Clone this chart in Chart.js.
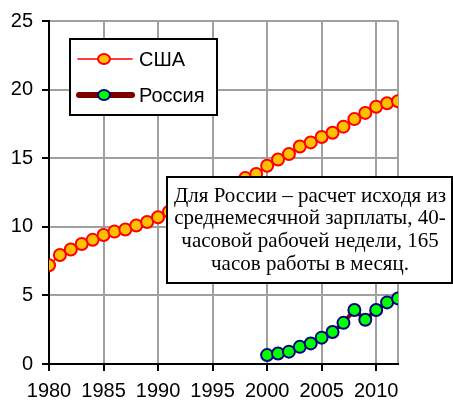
<!DOCTYPE html>
<html>
<head>
<meta charset="utf-8">
<script src="https://cdn.jsdelivr.net/npm/chart.js@4/dist/chart.umd.min.js"></script>
<style>
  body { margin: 0; background: #fff; }
  canvas { display: block; }
</style>
</head>
<body>
<canvas id="chart" width="453" height="400"></canvas>
<script>
// data
const usaYears = [1980, 1981, 1982, 1983, 1984, 1985, 1986, 1987, 1988, 1989, 1990,
    1991, 1992, 1993, 1994, 1995, 1996, 1997, 1998, 1999, 2000, 2001, 2002, 2003,
    2004, 2005, 2006, 2007, 2008, 2009, 2010, 2011, 2012];
const usaValues = [7.2, 7.95, 8.35, 8.75, 9.05, 9.4, 9.65, 9.8, 10.1, 10.35, 10.7,
    11.1, 11.45, 11.8, 12.15, 12.5, 12.85, 13.2, 13.55, 13.85, 14.45, 14.9, 15.3, 15.85,
    16.15, 16.55, 16.85, 17.3, 17.85, 18.3, 18.75, 19.0, 19.15];
const rusYears = [2000, 2001, 2002, 2003, 2004, 2005, 2006, 2007, 2008, 2009, 2010, 2011, 2012];
const rusValues = [0.65, 0.77, 0.9, 1.25, 1.5, 1.92, 2.33, 3.0, 3.94, 3.22, 3.94, 4.49, 4.78];
const xTickYears = [1980, 1985, 1990, 1995, 2000, 2005, 2010, 2012];
const seriesNames = ['США', 'Россия'];
const noteLines = ['Для России – расчет исходя из', 'среднемесячной зарплаты, 40-',
    'часовой рабочей недели, 165', 'часов работы в месяц.'];

const sans = '"Liberation Sans", Arial, sans-serif';
const serif = '"Liberation Serif", "Times New Roman", serif';

// legend + note drawn on top of the plot
const overlay = {
    id: 'overlay',
    afterDatasetsDraw(chart) {
        const c = chart.ctx;
        c.save();

        // note box
        c.fillStyle = '#fff';
        c.fillRect(167, 177, 285, 106);
        c.strokeStyle = '#000';
        c.lineWidth = 2;
        c.strokeRect(167, 177, 285, 106);
        c.fillStyle = '#000';
        c.font = '21px ' + serif;
        c.textAlign = 'center';
        c.textBaseline = 'middle';
        noteLines.forEach((t, i) => c.fillText(t, 310, 196 + i * 22.7));

        // legend box
        c.fillStyle = '#fff';
        c.fillRect(70, 39, 147, 76);
        c.strokeRect(70, 39, 147, 76);

        const ds = chart.data.datasets;
        const rows = [59, 95];
        ds.forEach((d, i) => {
            const y = rows[i];
            c.beginPath();
            c.lineCap = 'round';
            c.strokeStyle = d.borderColor;
            c.lineWidth = i === 0 ? 1.5 : 6;
            c.moveTo(i === 0 ? 78 : 79, y);
            c.lineTo(132, y);
            c.stroke();
            c.beginPath();
            c.ellipse(104, y, 6, 5, 0, 0, Math.PI * 2);
            c.fillStyle = d.pointBackgroundColor;
            c.fill();
            c.lineWidth = 2;
            c.strokeStyle = d.pointBorderColor;
            c.stroke();
            c.fillStyle = '#000';
            c.font = '20px ' + sans;
            c.textAlign = 'left';
            c.fillText(d.label, 139, y + 1);
        });
        c.restore();
    }
};

const ctx = document.getElementById('chart').getContext('2d');
new Chart(ctx, {
    type: 'line',
    data: {
        datasets: [{
            label: seriesNames[0],
            data: usaYears.map((yr, i) => ({ x: yr, y: usaValues[i] })),
            borderColor: '#ff0000',
            borderWidth: 1.5,
            pointBackgroundColor: '#ffc000',
            pointBorderColor: '#ff0000',
            pointBorderWidth: 2,
            pointRadius: 6,
            tension: 0
        }, {
            label: seriesNames[1],
            data: rusYears.map((yr, i) => ({ x: yr, y: rusValues[i] })),
            borderColor: '#7f0000',
            borderWidth: 4,
            pointBackgroundColor: '#00ff00',
            pointBorderColor: '#000080',
            pointBorderWidth: 2,
            pointRadius: 6,
            tension: 0
        }]
    },
    options: {
        responsive: false,
        animation: false,
        layout: { padding: { left: 0, right: 55, top: 17, bottom: 0 } },
        plugins: { legend: { display: false }, tooltip: { enabled: false } },
        scales: {
            x: {
                type: 'linear',
                min: 1980,
                max: 2012,
                afterBuildTicks: s => { s.ticks = xTickYears.map(v => ({ value: v })); },
                afterFit: s => { s.height = 36; },
                border: { color: '#000', width: 2 },
                grid: {
                    color: '#a0a0a0',
                    lineWidth: 2,
                    tickLength: 7,
                    tickWidth: 2,
                    tickColor: c => (c.tick && c.tick.value % 5 === 0) ? '#000' : 'rgba(0,0,0,0)'
                },
                ticks: {
                    color: '#000',
                    font: { family: sans, size: 20 },
                    padding: 8,
                    maxRotation: 0,
                    autoSkip: false,
                    callback: v => v % 5 === 0 ? String(v) : ''
                }
            },
            y: {
                min: 0,
                max: 25,
                afterFit: s => { s.width = 49; },
                border: { color: '#000', width: 2 },
                grid: {
                    color: '#a0a0a0',
                    lineWidth: 2,
                    tickLength: 7,
                    tickWidth: 2,
                    tickColor: '#000'
                },
                ticks: {
                    stepSize: 5,
                    color: '#000',
                    font: { family: sans, size: 20 },
                    padding: 9
                }
            }
        }
    },
    plugins: [overlay]
});
</script>
</body>
</html>
